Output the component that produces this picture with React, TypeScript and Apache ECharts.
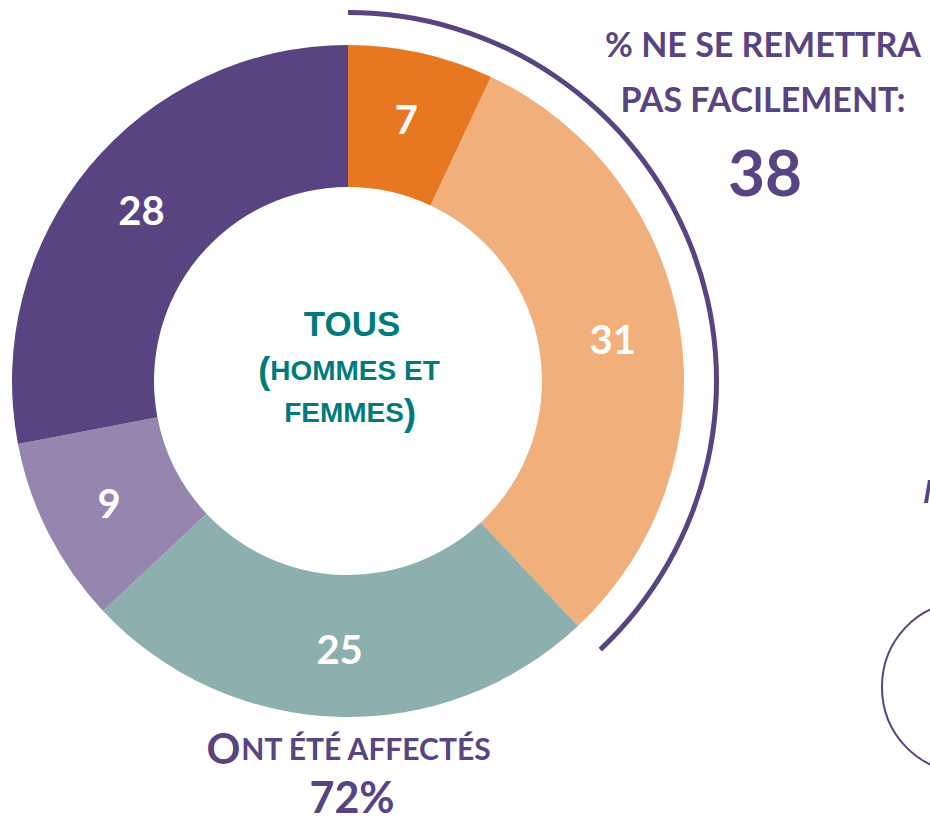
import React, { useEffect, useRef } from "react";
import * as echarts from "echarts";

const categories = ["Seg A", "Seg B", "Seg C", "Seg D", "Seg E"];
const values = [7, 31, 25, 9, 28];
const colors = ["#E87722", "#F1AF7C", "#8DB0AE", "#9586B0", "#574480"];
const notEasyRecover = 38; // 7 + 31
const affected = 72;

const PURPLE = "#574480";
const TEAL = "#007A7A";

export default function App() {
  const ref = useRef<HTMLDivElement>(null);
  useEffect(() => {
    if (!ref.current) return;
    const chart = echarts.init(ref.current, undefined, { renderer: "svg" });
    const cx = 348;
    const cy = 381;
    chart.setOption({
      animation: false,
      backgroundColor: "#ffffff",
      series: [
        {
          type: "pie",
          center: [cx, cy],
          radius: [194, 336],
          startAngle: 90,
          clockwise: true,
          silent: true,
          avoidLabelOverlap: false,
          label: {
            show: true,
            position: "inside",
            formatter: "{c}",
            color: "#ffffff",
            fontFamily: "Lato",
            fontWeight: "bold",
            fontSize: 40,
          },
          labelLine: { show: false },
          itemStyle: { borderWidth: 0 },
          data: categories.map((c, i) => ({
            name: c,
            value: values[i],
            itemStyle: { color: colors[i] },
          })),
        },
        {
          type: "pie",
          center: [cx, cy],
          radius: [366, 371],
          startAngle: 90,
          clockwise: true,
          silent: true,
          label: { show: false },
          labelLine: { show: false },
          data: [
            { value: notEasyRecover, itemStyle: { color: PURPLE } },
            { value: 100 - notEasyRecover, itemStyle: { color: "rgba(0,0,0,0)" } },
          ],
        },
      ],
      graphic: [
        {
          type: "text",
          x: 763,
          y: 43,
          style: {
            text: "% NE SE REMETTRA",
            fill: PURPLE,
            font: "bold 34px Lato",
            textAlign: "center",
            textVerticalAlign: "middle",
          },
        },
        {
          type: "text",
          x: 763,
          y: 98,
          style: {
            text: "PAS FACILEMENT:",
            fill: PURPLE,
            font: "bold 34px Lato",
            textAlign: "center",
            textVerticalAlign: "middle",
          },
        },
        {
          type: "text",
          x: 765,
          y: 171,
          style: {
            text: String(notEasyRecover),
            fill: PURPLE,
            font: "bold 64px Lato",
            textAlign: "center",
            textVerticalAlign: "middle",
          },
        },
        {
          type: "text",
          x: 349,
          y: 748,
          style: {
            text: "{a|O}{b|NT ÉTÉ AFFECTÉS}",
            fill: PURPLE,
            textAlign: "center",
            textVerticalAlign: "middle",
            rich: {
              a: { fontFamily: "Lato", fontWeight: "bold", fontSize: 42, fill: PURPLE },
              b: { fontFamily: "Lato", fontWeight: "bold", fontSize: 30, fill: PURPLE },
            },
          },
        },
        {
          type: "text",
          x: 352,
          y: 796,
          style: {
            text: affected + "%",
            fill: PURPLE,
            font: "bold 43px Lato",
            textAlign: "center",
            textVerticalAlign: "middle",
          },
        },
        {
          type: "text",
          x: 352,
          y: 323,
          style: {
            text: "TOUS",
            fill: TEAL,
            font: "bold 35px 'Liberation Sans'",
            textAlign: "center",
            textVerticalAlign: "middle",
          },
        },
        {
          type: "text",
          x: 349,
          y: 370,
          style: {
            text: "{a|(}{b|HOMMES ET}",
            fill: TEAL,
            textAlign: "center",
            textVerticalAlign: "middle",
            rich: {
              a: { fontFamily: "Liberation Sans", fontWeight: "bold", fontSize: 36, fill: TEAL },
              b: { fontFamily: "Liberation Sans", fontWeight: "bold", fontSize: 28, fill: TEAL },
            },
          },
        },
        {
          type: "text",
          x: 350,
          y: 412,
          style: {
            text: "{b|FEMMES}{a|)}",
            fill: TEAL,
            textAlign: "center",
            textVerticalAlign: "middle",
            rich: {
              a: { fontFamily: "Liberation Sans", fontWeight: "bold", fontSize: 36, fill: TEAL },
              b: { fontFamily: "Liberation Sans", fontWeight: "bold", fontSize: 28, fill: TEAL },
            },
          },
        },
        {
          type: "polygon",
          shape: {
            points: [
              [930, 480],
              [930, 490],
              [928, 503],
              [924, 503],
              [928, 480],
            ],
          },
          style: { fill: PURPLE },
        },
        {
          type: "ellipse",
          shape: { cx: 962, cy: 687, rx: 80, ry: 84 },
          style: { fill: "none", stroke: PURPLE, lineWidth: 2 },
        },
      ],
    });
    return () => chart.dispose();
  }, []);
  return (
    <div
      ref={ref}
      style={{ position: "fixed", left: 0, top: 0, width: 930, height: 821 }}
    />
  );
}
